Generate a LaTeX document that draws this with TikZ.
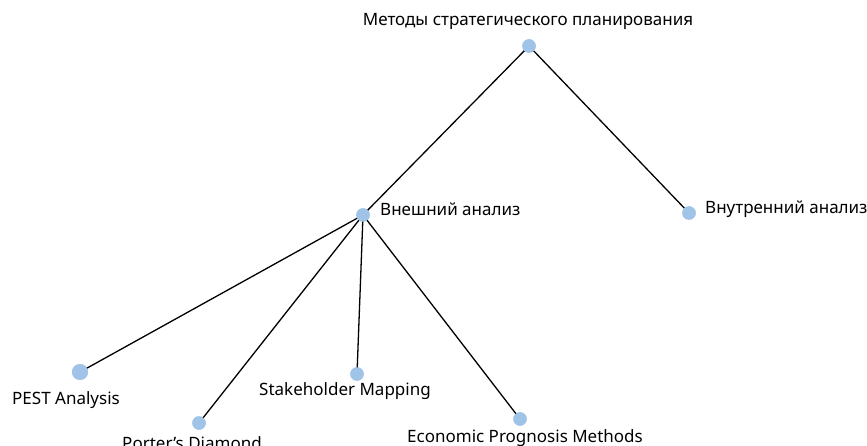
\documentclass[tikz,border=0pt]{standalone}
\usepackage{fontspec}
\setmainfont{Noto Sans}
\usetikzlibrary{positioning}
\definecolor{dotblue}{RGB}{160,196,232}
\begin{document}
\begin{tikzpicture}[x=1pt, y=-1pt,
  dot/.style={circle, fill=dotblue, inner sep=0pt, minimum size=13.5pt},
  bigdot/.style={dot, minimum size=16pt},
  lbl/.style={font=\fontsize{17}{19}\selectfont, inner sep=0pt},
  edge/.style={black, line width=1.3pt}]
  \useasboundingbox (0,0) rectangle (867,446);

  % nodes
  \node[dot] (root) at (529,46) {};
  \node[dot] (ext) at (363,215) {};
  \node[dot] (int) at (689,213) {};
  \node[bigdot] (pest) at (80,372) {};
  \node[dot] (porter) at (199,423) {};
  \node[dot] (stake) at (357,374) {};
  \node[dot] (econ) at (520,419) {};

  % edges
  \draw[edge] (root.center) -- (ext.center);
  \draw[edge] (root.center) -- (int.center);
  \draw[edge] (ext.center) -- (pest.center);
  \draw[edge] (ext.center) -- (porter.center);
  \draw[edge] (ext.center) -- (stake.center);
  \draw[edge] (ext.center) -- (econ.center);

  % redraw dots on top
  \foreach \n/\s in {root/dot, ext/dot, int/dot, pest/bigdot, porter/dot, stake/dot, econ/dot}
    \node[\s] at (\n) {};

  % labels
  \node[lbl] (rootlabel) at (528,21) {Методы стратегического планирования};
  \node[lbl, anchor=west] (extlabel) at (380,209) {Внешний анализ};
  \node[lbl, anchor=west] (intlabel) at (705,209) {Внутренний анализ};
  \node[lbl] (pestlabel) at (66,400) {PEST Analysis};
  \node[lbl] (porterlabel) at (192,443) {Porter’s Diamond};
  \node[lbl] (stakelabel) at (345,391) {Stakeholder Mapping};
  \node[lbl] (econlabel) at (525,438) {Economic Prognosis Methods};
\end{tikzpicture}
\end{document}
